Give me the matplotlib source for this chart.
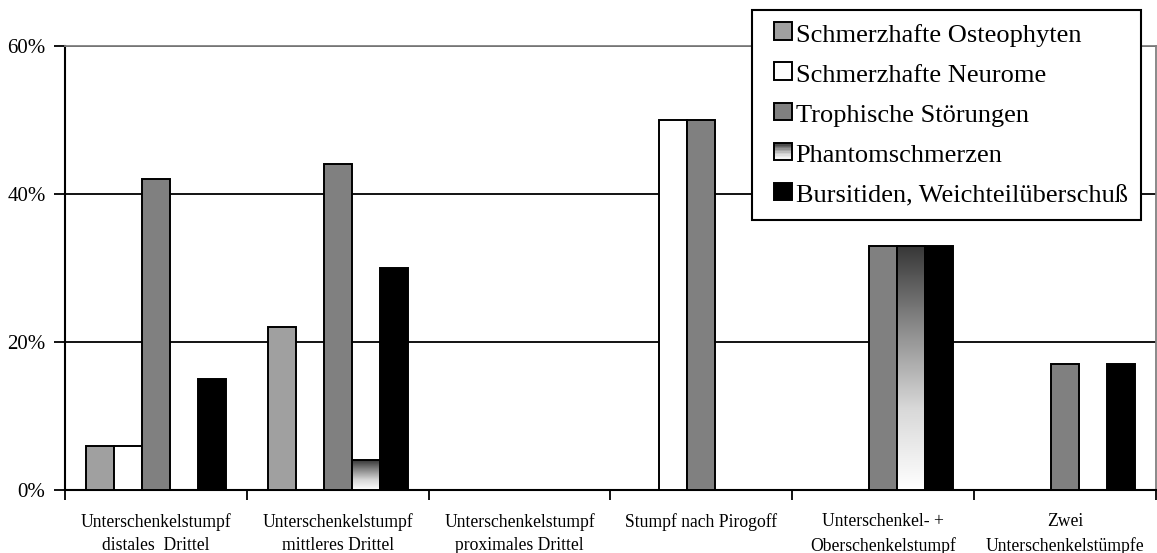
import numpy as np
import matplotlib
matplotlib.use('Agg')
import matplotlib.pyplot as plt
from matplotlib.patches import Rectangle
from matplotlib.legend_handler import HandlerBase
from matplotlib.colors import LinearSegmentedColormap
from matplotlib.ticker import FuncFormatter, FixedLocator

plt.rcParams['font.family'] = ['Liberation Serif', 'DejaVu Serif']

categories = ['Unterschenkelstumpf\ndistales  Drittel',
              'Unterschenkelstumpf\nmittleres Drittel',
              'Unterschenkelstumpf\nproximales Drittel',
              'Stumpf nach Pirogoff\n',
              'Unterschenkel- +\nOberschenkelstumpf',
              'Zwei\nUnterschenkelstümpfe']

osteophyten = [6, 22, 0, 0, 0, 0]
neurome = [6, 0, 0, 50, 0, 0]
trophisch = [42, 44, 0, 50, 33, 17]
phantom = [0, 4, 0, 0, 33, 0]
bursitiden = [15, 30, 0, 0, 33, 17]

series_names = ['Schmerzhafte Osteophyten', 'Schmerzhafte Neurome',
                'Trophische Störungen', 'Phantomschmerzen',
                'Bursitiden, Weichteilüberschuß']
y_ticks = [0, 20, 40, 60]

fills = ['#a0a0a0', '#ffffff', '#808080', None, '#000000']
grad = LinearSegmentedColormap.from_list('phantom', ['#ffffff', '#d8d8d8', '#8a8a8a', '#363636'])

fig = plt.figure(figsize=(11.57, 5.53), dpi=100)
ax = fig.add_axes([65 / 1157, 1 - 490 / 553, 1091 / 1157, 444 / 553])

x = np.arange(len(categories))
w = 0.154
all_series = [osteophyten, neurome, trophisch, phantom, bursitiden]

for i, vals in enumerate(all_series):
    pos = x + (i - 2) * w
    if fills[i] is None:
        # gradient fill, dark at the top, white at the base
        bars = ax.bar(pos, vals, w, facecolor='none', edgecolor='black',
                      linewidth=1.4, zorder=4)
        for b, v in zip(bars, vals):
            if v <= 0:
                continue
            ramp = np.linspace(0, 1, 256).reshape(-1, 1)
            ax.imshow(ramp, cmap=grad, aspect='auto', origin='lower',
                      extent=(b.get_x(), b.get_x() + w, 0, v), zorder=3,
                      interpolation='bilinear')
    else:
        ax.bar(pos, vals, w, color=fills[i], edgecolor='black',
               linewidth=1.4, zorder=3)

ax.set_xlim(-0.5, len(categories) - 0.5)
ax.set_ylim(0, 60)

ax.yaxis.set_major_locator(FixedLocator(y_ticks))
ax.yaxis.set_major_formatter(FuncFormatter(lambda v, p: '%d%%' % v))
ax.yaxis.grid(True, color='black', linewidth=1.3, zorder=1)
ax.set_axisbelow(True)

ax.set_xticks(x)
ax.set_xticklabels(categories, fontsize=12.7, linespacing=1.5, va='top')
ax.xaxis.set_minor_locator(FixedLocator(np.arange(len(categories) + 1) - 0.5))
ax.tick_params(axis='x', which='major', length=0, pad=16.5)
ax.tick_params(axis='x', which='minor', length=7, width=1.3, direction='out')
ax.tick_params(axis='y', length=8, width=1.3, direction='out', labelsize=15, pad=6)

for side in ['left', 'bottom']:
    ax.spines[side].set_color('black')
    ax.spines[side].set_linewidth(1.5)
for side in ['top', 'right']:
    ax.spines[side].set_color('#808080')
    ax.spines[side].set_linewidth(1.3)


class SquareHandler(HandlerBase):
    """Small square key, pushed to the right end of the handle box."""

    def __init__(self, color=None, gradient=False):
        super().__init__()
        self.color = color
        self.gradient = gradient

    def create_artists(self, legend, orig_handle, xdescent, ydescent,
                       width, height, fontsize, trans):
        side = 12.5
        x0 = -xdescent + width - side - 1
        y0 = -ydescent + (height - side) / 2 + 1
        arts = []
        if self.gradient:
            n = 12
            for k in range(n):
                c = grad(1 - k / (n - 1))
                arts.append(Rectangle((x0, y0 + side * (n - 1 - k) / n),
                                      side, side / n, facecolor=c,
                                      edgecolor='none', transform=trans))
            arts.append(Rectangle((x0, y0), side, side, facecolor='none',
                                  edgecolor='black', linewidth=1.4,
                                  transform=trans))
        else:
            arts.append(Rectangle((x0, y0), side, side, facecolor=self.color,
                                  edgecolor='black', linewidth=1.4,
                                  transform=trans))
        return arts


handles = [Rectangle((0, 0), 1, 1, label=name) for name in series_names]
hmap = {h: SquareHandler(color=fills[i], gradient=fills[i] is None)
        for i, h in enumerate(handles)}

leg = ax.legend(handles=handles, loc='upper left',
                bbox_to_anchor=(752 / 1157, 1 - 10 / 553),
                bbox_transform=fig.transFigure, fontsize=19,
                frameon=True, fancybox=False, framealpha=1,
                edgecolor='black', borderpad=0.5, labelspacing=0.63,
                handlelength=1.05, handleheight=0.7, handletextpad=0.1,
                borderaxespad=0, handler_map=hmap)
leg.get_frame().set_linewidth(1.5)
leg.set_zorder(10)

fig.savefig('out.png', dpi=100)
